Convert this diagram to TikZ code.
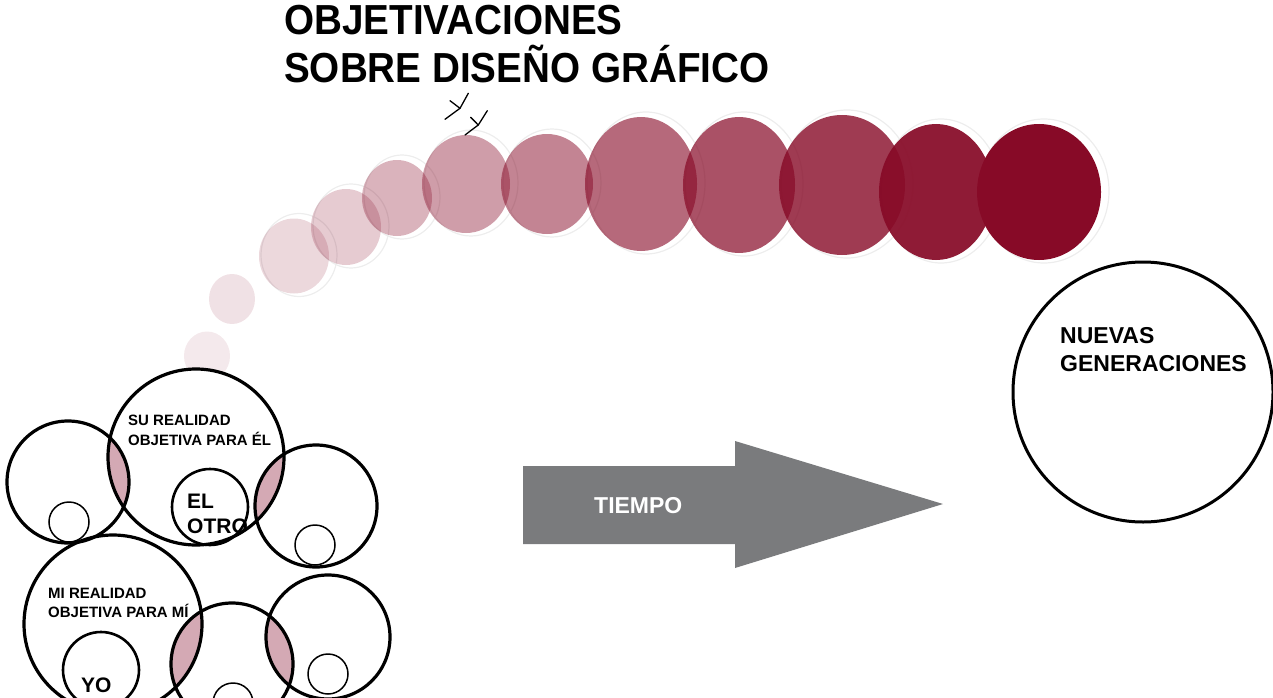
\documentclass[tikz,border=0pt]{standalone}
\usepackage{fontspec}
\setmainfont{Liberation Sans}
\definecolor{winec}{HTML}{870A27}
\definecolor{lensc}{HTML}{D4A9B4}
\definecolor{arrowc}{HTML}{7A7B7D}
\begin{document}
\begin{tikzpicture}[x=1pt,y=-1pt,
  ghost/.style={draw=black!7, line width=1.2pt},
  bigring/.style={draw=black, line width=3.2pt},
  midring/.style={draw=black, line width=2.6pt},
  smallring/.style={draw=black, line width=1.5pt},
  markstroke/.style={draw=black, line width=1.3pt, line join=round, line cap=round},
  lbl/.style={anchor=base west, inner sep=0pt, font=\bfseries\fontsize{15}{15}\selectfont},
  lblbig/.style={anchor=base west, inner sep=0pt, font=\bfseries\fontsize{21}{21}\selectfont},
  lblhuge/.style={anchor=base west, inner sep=0pt, font=\bfseries\fontsize{23}{23}\selectfont},
  titlelbl/.style={anchor=base west, inner sep=0pt, xscale=0.92, font=\bfseries\fontsize{42}{42}\selectfont}]
\useasboundingbox (0,0) rectangle (1273,698);
\clip (0,0) rectangle (1273,698);

% faint ghost outlines behind the coloured discs
\foreach \cx/\cy/\rx/\ry in {294/256/35/37.5, 346/227/35/38, 397/198/35/38, 466/184/44/49, 547/184/46/50, 641/184/56/67, 739/185/56/68, 842/185/63/70, 936/192/57/68, 1039/192/62/68}{
  \draw[ghost] (\cx+5,\cy-1) ellipse [x radius=\rx+3, y radius=\ry+4];
}

% fading sequence of discs
\fill[winec, fill opacity=0.09] (207,356) ellipse [x radius=23, y radius=24.5];
\fill[winec, fill opacity=0.12] (232,299) ellipse [x radius=23, y radius=25];
\fill[winec, fill opacity=0.16] (294,256) ellipse [x radius=35, y radius=37.5];
\fill[winec, fill opacity=0.21] (346,227) ellipse [x radius=35, y radius=38];
\fill[winec, fill opacity=0.31] (397,198) ellipse [x radius=35, y radius=38];
\fill[winec, fill opacity=0.40] (466,184) ellipse [x radius=44, y radius=49];
\fill[winec, fill opacity=0.50] (547,184) ellipse [x radius=46, y radius=50];
\fill[winec, fill opacity=0.61] (641,184) ellipse [x radius=56, y radius=67];
\fill[winec, fill opacity=0.71] (739,185) ellipse [x radius=56, y radius=68];
\fill[winec, fill opacity=0.80] (842,185) ellipse [x radius=63, y radius=70];
\fill[winec, fill opacity=0.93] (936,192) ellipse [x radius=57, y radius=68];
\fill[winec, fill opacity=1.00] (1039,192) ellipse [x radius=62, y radius=68];

% small marks under the title
\coordinate (m1j) at (460,108.3);
\coordinate (m2j) at (478.3,125);
\draw[markstroke] (450,100.7) -- (m1j) -- (445,119.3);
\draw[markstroke] (468.3,93.3) -- (m1j);
\draw[markstroke] (470.7,117.3) -- (m2j) -- (465,135);
\draw[markstroke] (487.3,110.7) -- (m2j);

% title
\node[titlelbl] (t1) at (284,35) {OBJETIVACIONES};
\node[titlelbl] (t2) at (284,83) {SOBRE DISEÑO GRÁFICO};

% bottom-left cluster
\fill[white] (196,457) circle [radius=88];
\begin{scope}
  \clip (196,457) circle [radius=88];
  \fill[lensc] (68,482) circle [radius=61];
  \fill[lensc] (316,506) circle [radius=61];
\end{scope}
\begin{scope}
  \clip (232,664) circle [radius=61];
  \fill[lensc] (113,624) circle [radius=89];
  \fill[lensc] (328,637) circle [radius=62];
\end{scope}

\draw[bigring] (196,457) circle [radius=88];
\draw[bigring] (68,482) circle [radius=61];
\draw[bigring] (316,506) circle [radius=61];
\draw[bigring] (113,624) circle [radius=89];
\draw[bigring] (232,664) circle [radius=61];
\draw[bigring] (328,637) circle [radius=62];
\draw[midring] (210,507) circle [radius=38];
\draw[midring] (101,670) circle [radius=38];
\draw[smallring] (69,522) circle [radius=20];
\draw[smallring] (315,545) circle [radius=20];
\draw[smallring] (233,703) circle [radius=20];
\draw[smallring] (328,674) circle [radius=20];

\node[lbl] (su1) at (128,425) {SU REALIDAD};
\node[lbl] (su2) at (128,445) {OBJETIVA PARA ÉL};
\node[lbl] (mi1) at (48,598) {MI REALIDAD};
\node[lbl] (mi2) at (48,617) {OBJETIVA PARA MÍ};
\node[lblbig] (el) at (187,508) {EL};
\node[lblbig] (otro) at (187,533) {OTRO};
\node[lblbig] (yo) at (81,692) {YO};

% time arrow
\fill[arrowc] (523,466) -- (735,466) -- (735,441) -- (943,504) -- (735,568) -- (735,544) -- (523,544) -- cycle;
\node[lblhuge, text=white] (tiempo) at (594,513) {TIEMPO};

% new generations
\draw[line width=3pt] (1143,392) circle [radius=130];
\node[lblhuge] (nu1) at (1060,343) {NUEVAS};
\node[lblhuge] (nu2) at (1060,371) {GENERACIONES};
\end{tikzpicture}
\end{document}
